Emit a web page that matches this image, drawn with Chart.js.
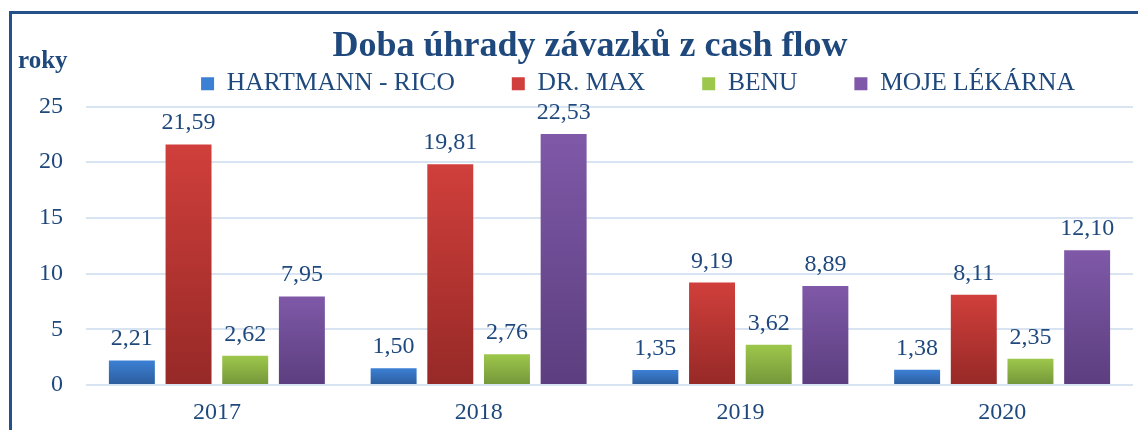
<!DOCTYPE html>
<html lang="cs">
<head>
<meta charset="UTF-8" />
<title>Doba úhrady závazků z cash flow</title>
<script src="https://cdn.jsdelivr.net/npm/chart.js@4/dist/chart.umd.min.js"></script>
<style>
  html, body { margin: 0; padding: 0; background: #fff; overflow: hidden; }
  .wrap { position: relative; width: 1138px; height: 430px; }
  .frame {
    position: absolute; left: 9px; top: 11px; width: 1200px; height: 500px;
    border-left: 3px solid #25508a; border-top: 3px solid #25508a;
    box-sizing: border-box;
  }
  canvas { position: absolute; left: 0; top: 0; }
</style>
</head>
<body>
<div class="wrap">
  <div class="frame"></div>
  <canvas id="chart" width="1138" height="430"></canvas>
</div>
<script>
const years = ['2017', '2018', '2019', '2020'];
const seriesNames = ['HARTMANN - RICO', 'DR. MAX', 'BENU', 'MOJE LÉKÁRNA'];
const hartmann = [2.21, 1.50, 1.35, 1.38];
const drMax = [21.59, 19.81, 9.19, 8.11];
const benu = [2.62, 2.76, 3.62, 2.35];
const mojeLekarna = [7.95, 22.53, 8.89, 12.10];
const yMin = 0, yMax = 25, yStep = 5;

const titleText = 'Doba úhrady závazků z cash flow';
const unitText = 'roky';
const textColor = '#1f497d';
const serif = '"Liberation Serif", "Times New Roman", serif';

// top and bottom colours of each bar gradient
const barColors = [
  ['#3c80d5', '#2c5c9c'],
  ['#d03f3b', '#962927'],
  ['#9dc74b', '#74963a'],
  ['#7f59a8', '#5c3e7f']
];

function barFill(i) {
  return function (ctx) {
    const chart = ctx.chart;
    const [top, bottom] = barColors[i];
    if (!chart.chartArea || ctx.type !== 'data') return top;
    const y = chart.scales.y;
    const y0 = y.getPixelForValue(ctx.parsed.y);
    const y1 = y.getPixelForValue(0);
    if (!isFinite(y0) || Math.abs(y1 - y0) < 1) return top;
    const g = chart.ctx.createLinearGradient(0, y0, 0, y1);
    g.addColorStop(0, top);
    g.addColorStop(1, bottom);
    return g;
  };
}

const allValues = [hartmann, drMax, benu, mojeLekarna];

const datasets = allValues.map((vals, i) => ({
  label: seriesNames[i],
  data: vals,
  backgroundColor: barFill(i),
  borderWidth: 0,
  categoryPercentage: 0.866,
  barPercentage: 0.811
}));

// value labels above bars, with a decimal comma
const valueLabels = {
  id: 'valueLabels',
  afterDatasetsDraw(chart) {
    const ctx = chart.ctx;
    ctx.save();
    ctx.font = '24px ' + serif;
    ctx.fillStyle = textColor;
    ctx.textAlign = 'center';
    ctx.textBaseline = 'alphabetic';
    chart.data.datasets.forEach((ds, di) => {
      chart.getDatasetMeta(di).data.forEach((bar, j) => {
        const txt = ds.data[j].toFixed(2).replace('.', ',');
        ctx.fillText(txt, bar.x, bar.y - 15);
      });
    });
    ctx.restore();
  }
};

// chart title and unit label
const headerText = {
  id: 'headerText',
  afterDraw(chart) {
    const ctx = chart.ctx;
    ctx.save();
    ctx.fillStyle = textColor;
    ctx.textBaseline = 'alphabetic';
    ctx.font = 'bold 36px ' + serif;
    ctx.textAlign = 'center';
    ctx.fillText(titleText, 590, 56);
    ctx.font = 'bold 25px ' + serif;
    ctx.textAlign = 'left';
    ctx.fillText(unitText, 18, 68);
    ctx.restore();
  }
};

// the legend sits a little right of centre in the original
const legendShift = {
  id: 'legendShift',
  afterLayout(chart) {
    chart.legend.left += 52;
    chart.legend.right += 52;
  }
};

new Chart(document.getElementById('chart'), {
  type: 'bar',
  data: { labels: years, datasets: datasets },
  plugins: [valueLabels, headerText, legendShift],
  options: {
    responsive: false,
    animation: false,
    layout: { padding: { left: 39, right: 5, top: 14, bottom: 3 } },
    plugins: {
      title: { display: false },
      tooltip: { enabled: false },
      legend: {
        position: 'top',
        maxHeight: 95.5,
        labels: {
          boxWidth: 13,
          boxHeight: 13,
          padding: 57,
          color: textColor,
          font: { family: serif, size: 25.5 },
          generateLabels(chart) {
            return chart.data.datasets.map((ds, i) => ({
              text: ds.label,
              fillStyle: barColors[i][0],
              strokeStyle: barColors[i][0],
              lineWidth: 0,
              fontColor: textColor,
              datasetIndex: i
            }));
          }
        }
      }
    },
    scales: {
      x: {
        grid: { display: false, drawTicks: false },
        border: { display: false },
        ticks: {
          color: textColor,
          font: { family: serif, size: 24 },
          padding: 13,
          maxRotation: 0
        },
        afterFit(scale) { scale.height = 42; }
      },
      y: {
        min: yMin,
        max: yMax,
        grid: { color: '#d8e4f1', lineWidth: 2, drawTicks: false },
        border: { display: false },
        ticks: {
          stepSize: yStep,
          color: textColor,
          font: { family: serif, size: 24 },
          padding: 23
        },
        afterFit(scale) { scale.width = 47; }
      }
    }
  }
});
</script>
</body>
</html>
